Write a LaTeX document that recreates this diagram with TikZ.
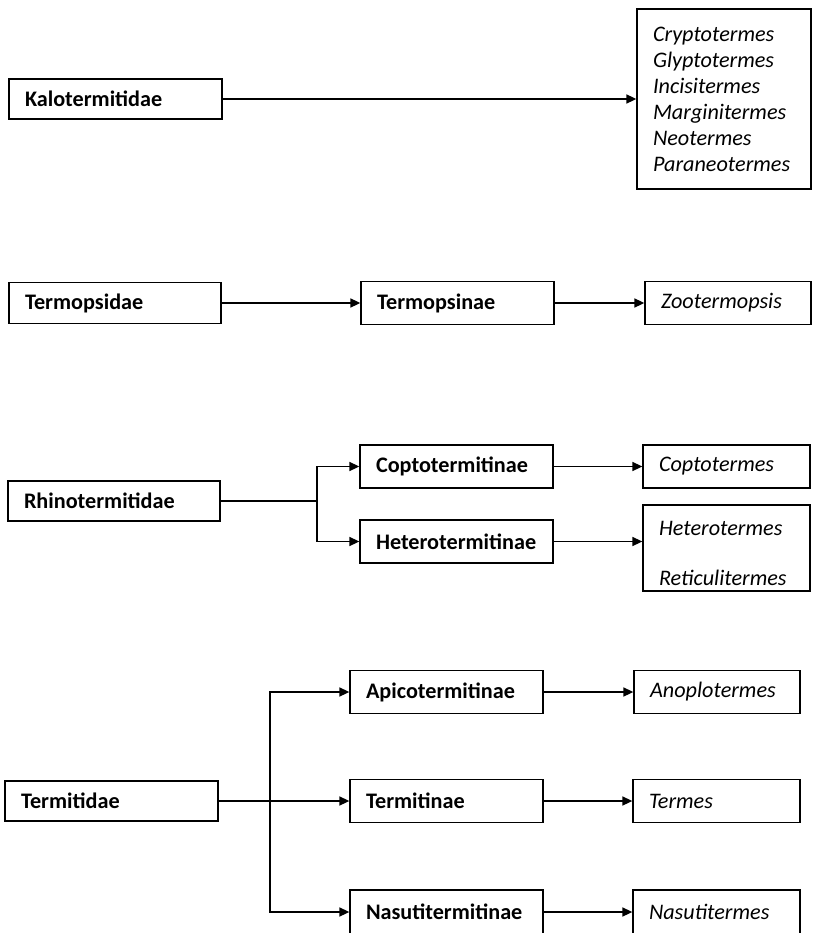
\documentclass[tikz,border=0pt]{standalone}
\usepackage{fontspec}
\setmainfont{Carlito}
\usetikzlibrary{arrows.meta}
\begin{document}
\begin{tikzpicture}[x=1pt,y=-1pt,
  box/.style={draw, line width=1.3pt, inner xsep=16pt, inner ysep=0pt, align=left, anchor=center},
  fam/.style={box, font=\fontsize{22.2}{26}\selectfont\bfseries},
  gen/.style={box, font=\fontsize{22.2}{26}\selectfont\itshape},
  conn/.style={line width=1.6pt, -{Triangle[length=10pt,width=9pt]}},
  plain/.style={line width=1.6pt}]
\useasboundingbox (0,0) rectangle (812,933);
\clip (0,0) rectangle (812,933);
% Kalotermitidae
\node[fam, text width=181pt, minimum height=40pt] (kalo) at (115.5,99) {Kalotermitidae};
\node[gen, text width=142pt, minimum height=180pt] (kalog) at (724,99) {Cryptotermes\\Glyptotermes\\Incisitermes\\Marginitermes\\Neotermes\\Paraneotermes};
\draw[conn] (kalo.east) -- (kalog.west);
% Termopsidae
\node[fam, text width=180pt, minimum height=41pt] (termo) at (115,303) {Termopsidae};
\node[fam, text width=161pt, minimum height=43pt] (termsub) at (457.5,303) {Termopsinae};
\node[gen, text width=134pt, minimum height=43pt] (zoo) at (728,303) {Zootermopsis};
\draw[conn] (termo.east) -- (termsub.west);
\draw[conn] (termsub.east) -- (zoo.west);
% Rhinotermitidae
\node[fam, text width=180pt, minimum height=40pt] (rhino) at (114,501) {Rhinotermitidae};
\node[fam, text width=161pt, minimum height=43pt] (copto) at (456.5,466.5) {Coptotermitinae};
\node[gen, text width=135pt, minimum height=43pt] (coptog) at (726.5,466.5) {Coptotermes};
\node[fam, text width=161pt, minimum height=43pt] (hetero) at (456.5,541.5) {Heterotermitinae};
\node[gen, font=\fontsize{22.2}{50}\selectfont\itshape, text width=135pt, minimum height=86pt] (heterog) at (726.5,548) {\rule{0pt}{25pt}Heterotermes\\Reticulitermes};
\coordinate (rb) at (317,501);
\draw[plain] (rhino.east) -- (rb);
\draw[conn] (rb) |- (copto.west);
\draw[conn] (rb) |- (hetero.west);
\draw[conn] (copto.east) -- (coptog.west);
\draw[conn] (hetero.east) -- (hetero.east -| heterog.west);
% Termitidae
\node[fam, text width=181pt, minimum height=40pt] (termi) at (111.5,801) {Termitidae};
\node[fam, text width=161pt, minimum height=43pt] (api) at (446.5,692) {Apicotermitinae};
\node[gen, text width=134pt, minimum height=43pt] (apig) at (717,692) {Anoplotermes};
\node[fam, text width=161pt, minimum height=43pt] (termin) at (446.5,801) {Termitinae};
\node[gen, text width=135pt, minimum height=43pt] (termes) at (716.5,801) {Termes};
\node[fam, text width=161pt, minimum height=44pt] (nasuti) at (446.5,912) {Nasutitermitinae};
\node[gen, text width=135pt, minimum height=44pt] (nasg) at (716.5,912) {Nasutitermes};
\coordinate (tb) at (270,801);
\draw[conn] (termi.east) -- (termin.west);
\draw[conn] (tb) |- (api.west);
\draw[conn] (tb) |- (nasuti.west);
\draw[conn] (api.east) -- (apig.west);
\draw[conn] (termin.east) -- (termes.west);
\draw[conn] (nasuti.east) -- (nasg.west);
\end{tikzpicture}
\end{document}
